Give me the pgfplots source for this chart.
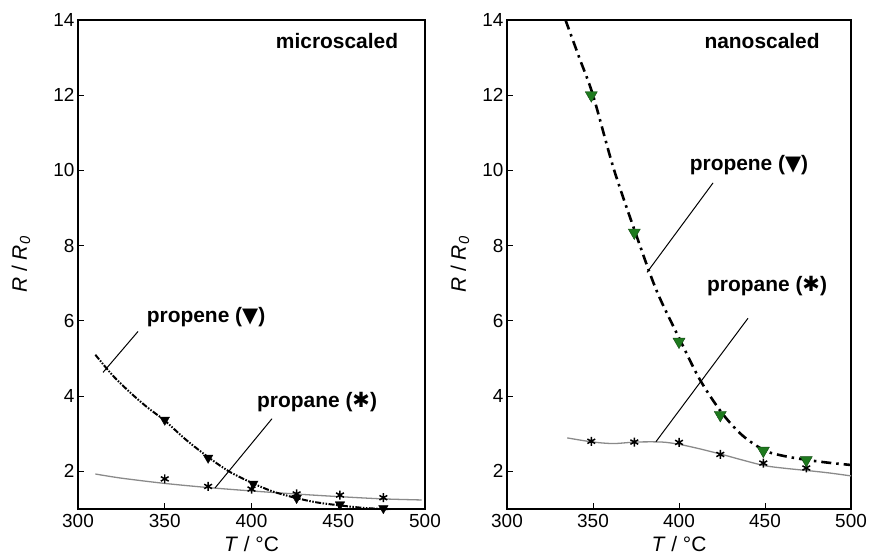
\documentclass[border=0pt]{standalone}
\usepackage{pgfplots}
\pgfplotsset{compat=1.18}
\usepackage{fontspec}
\setmainfont{Liberation Sans}
\newfontfamily\symfont{DejaVu Sans}

\definecolor{fitgray}{HTML}{8A8A8A}
\definecolor{trigreen}{HTML}{1E7A1E}

\pgfplotsset{
  panel/.style={
    scale only axis, width=#1, height=489bp,
    xmin=300, xmax=500, ymin=1, ymax=14,
    xtick={300,350,...,500}, ytick={2,4,...,14},
    xtick pos=bottom, ytick pos=left,
    tick align=inside, major tick length=6bp,
    axis line style={line width=1.4pt},
    every tick/.style={black, line width=0.9pt},
    /pgf/number format/assume math mode=true,
    tick label style={font=\fontsize{19}{21}\selectfont},
    xticklabel style={yshift=-2bp},
    label style={font=\fontsize{21}{24}\selectfont},
    xlabel={\textit{T} / °C},
    ylabel={\textit{R} / \textit{R}\textsubscript{\textit{0}}},
    xlabel style={at={(axis description cs:0.5,0)}, anchor=center, yshift=-35bp},
    clip=false,
  },
}
\tikzset{note/.style={font=\bfseries\fontsize{21}{24}\selectfont, anchor=center}}

\begin{document}
\begin{tikzpicture}[x=1bp,y=1bp]
\path[use as bounding box] (0,0) rectangle (872,556);

% ---- microscaled
\begin{axis}[panel=347bp, at={(78bp,47bp)}, anchor=south west,
  ylabel style={at={(axis description cs:0,0.5)}, anchor=center, yshift=57bp}]
\addplot[fitgray, line width=1.3pt, smooth] coordinates {
  (310,1.93) (325,1.82) (350,1.68) (375,1.57) (400,1.48) (425,1.40) (450,1.33) (475,1.27) (498,1.24)
};
\addplot[black, line width=2pt, smooth, dash pattern=on 6bp off 1.5bp on 1.5bp off 1.5bp on 1.5bp off 1.5bp] coordinates {
  (310,5.10) (320,4.55) (330,4.10) (340,3.70) (350,3.35) (362,2.85) (375,2.38) (387,2.00)
  (400,1.70) (412,1.47) (425,1.30) (437,1.18) (450,1.10) (462,1.04) (475,1.00) (480,1.00)
};
\addplot[only marks, mark=asterisk, mark size=4.5bp, line width=1.5pt, black] coordinates {
  (350,1.80) (375,1.60) (400,1.53) (426,1.40) (451,1.37) (476,1.30)
};
\addplot[only marks, mark=triangle*, mark size=5.5bp, black, mark options={rotate=180}] coordinates {
  (350,3.37) (375,2.36) (401,1.67) (426,1.29) (451,1.12) (476,1.02)
};
\draw[line width=1pt] (axis cs:314.4,4.63) -- (axis cs:334.6,5.72);
\draw[line width=1pt] (axis cs:379,1.56) -- (axis cs:411.8,3.40);
\node[note] at (axis cs:373.8,6.09) {propene ({\symfont ▼})};
\node[note] at (axis cs:437.8,3.83) {propane ({\symfont ✱})};
\node[note] at (axis cs:449.3,13.43) {microscaled};
\end{axis}

% ---- nanoscaled
\begin{axis}[panel=344bp, at={(507bp,47bp)}, anchor=south west,
  ylabel style={at={(axis description cs:0,0.5)}, anchor=center, yshift=47bp}]
\addplot[fitgray, line width=1.3pt, smooth] coordinates {
  (335,2.89) (350,2.78) (362,2.74) (375,2.78) (390,2.78) (400,2.72) (412,2.60) (425,2.45)
  (437,2.30) (450,2.15) (462,2.08) (475,2.02) (487,1.96) (500,1.88)
};
\addplot[black, line width=2.6pt, smooth, dash pattern=on 10bp off 5bp on 2.5bp off 5bp] coordinates {
  (334,14.0) (342,13.0) (350,12.0) (362,10.05) (375,8.30) (387,6.80) (400,5.55) (412,4.45)
  (425,3.55) (437,2.95) (450,2.55) (462,2.40) (475,2.30) (487,2.23) (500,2.17)
};
\addplot[only marks, mark=asterisk, mark size=4.5bp, line width=1.5pt, black] coordinates {
  (349,2.80) (374,2.78) (400,2.77) (424,2.45) (449,2.22) (474,2.09)
};
\addplot[only marks, mark=triangle*, mark size=7bp, mark options={rotate=180, fill=trigreen, draw=trigreen!60!black}] coordinates {
  (349,12.0) (374,8.35) (400,5.45) (424,3.50) (449,2.55) (474,2.30)
};
\draw[line width=1pt] (axis cs:381.4,7.29) -- (axis cs:419.8,9.67);
\draw[line width=1pt] (axis cs:386.6,2.79) -- (axis cs:440.1,6.07);
\node[note] at (axis cs:440.7,10.15) {propene ({\symfont ▼})};
\node[note] at (axis cs:451.2,6.92) {propane ({\symfont ✱})};
\node[note] at (axis cs:448.3,13.43) {nanoscaled};
\end{axis}
\end{tikzpicture}
\end{document}
